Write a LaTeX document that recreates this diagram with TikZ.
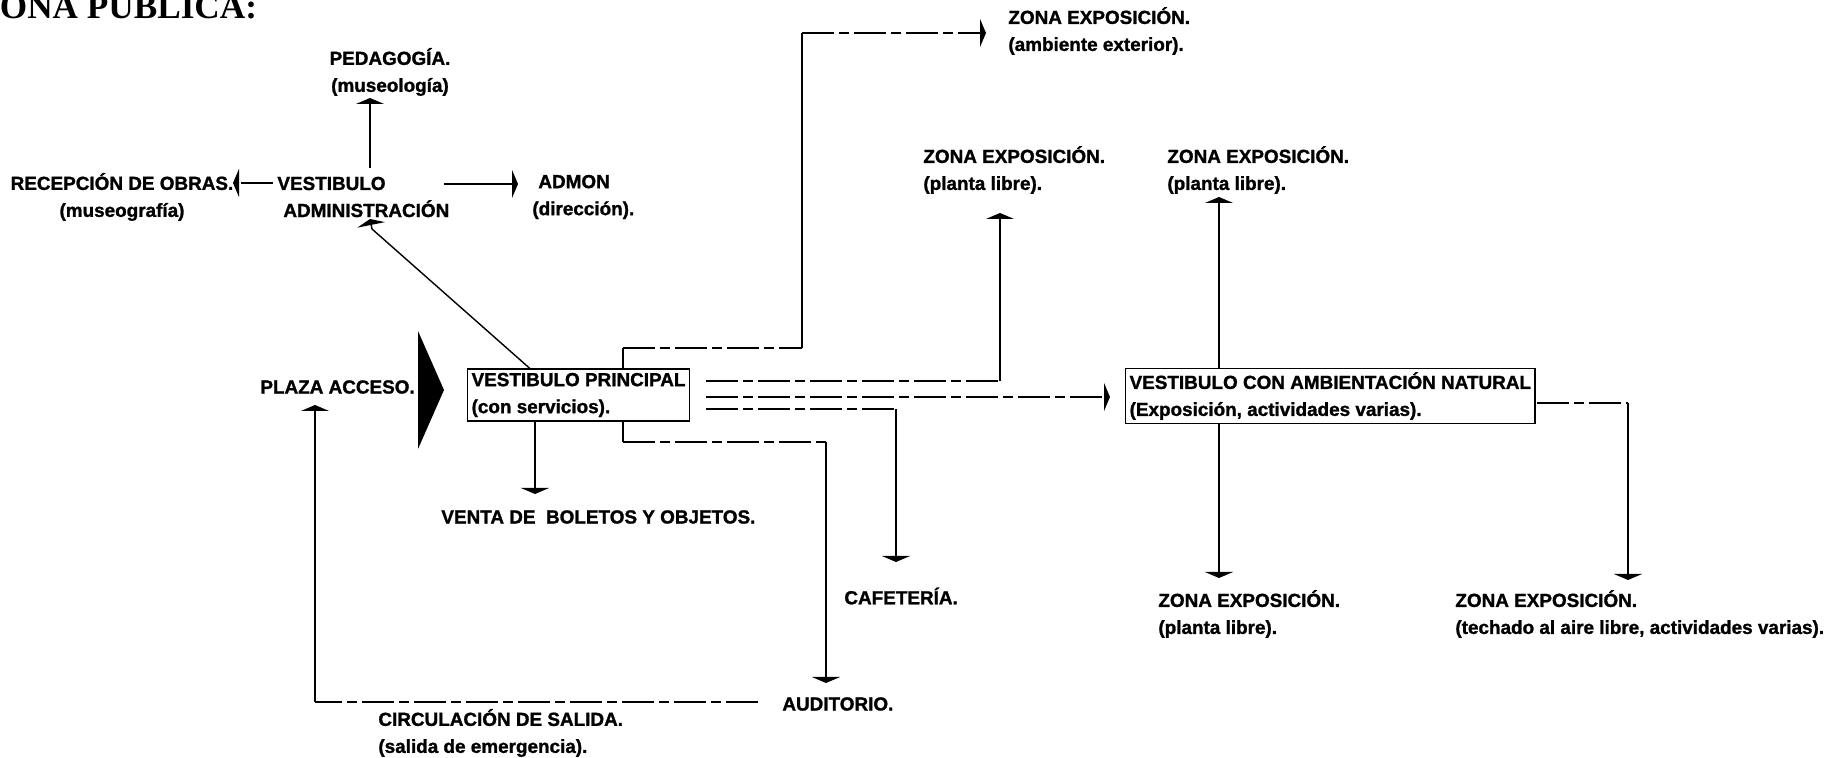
\documentclass[tikz,border=0pt]{standalone}
\usepackage{fontspec}
\setmainfont{Liberation Sans}
\newfontfamily\heavy{Liberation Sans Bold}[FakeBold=1.3]
\newfontfamily\titlefont{Liberation Serif}
\usetikzlibrary{arrows.meta}
\begin{document}
\begin{tikzpicture}[x=0.5pt,y=-0.5pt,
  lbl/.style={inner sep=0pt, font=\heavy\fontsize{9.45}{13.5}\selectfont, align=left, anchor=west},
  lblc/.style={lbl, align=center, anchor=center},
  boxed/.style={lbl, draw, fill=white, line width=0.6pt, inner xsep=2pt, inner ysep=2pt},
  ln/.style={line width=0.7pt},
  arr/.style={ln, -{Triangle[length=3pt,width=14pt]}},
  harr/.style={ln, -{Triangle[length=3pt,width=14pt]}},
  brk/.style={dash pattern=on 16pt off 2.5pt on 5pt off 2.5pt},
]
\useasboundingbox (0,0) rectangle (1843,758);
% title
\node[anchor=base west, inner sep=0pt, font=\titlefont\bfseries\fontsize{17.6}{20}\selectfont] (title) at (-24,19) {ZONA PÚBLICA:};

% junction / tip coordinates
\coordinate (pedTip) at (370,98);
\coordinate (pedBot) at (370,168);
\coordinate (recTail) at (273,183);
\coordinate (recTip) at (233,183);
\coordinate (admTail) at (444,184);
\coordinate (admTip) at (518,184);
\coordinate (diagTail) at (535,373);
\coordinate (diagPre) at (372,229);
\coordinate (diagTip) at (370,219);
\coordinate (brA) at (623,348);
\coordinate (brB) at (802,348);
\coordinate (brC) at (802,33);
\coordinate (extTip) at (986,33);
\coordinate (brD) at (623,442);
\coordinate (brE) at (826,442);
\coordinate (audTip) at (826,683);
\coordinate (l1a) at (706,381);
\coordinate (l1b) at (1000,381);
\coordinate (midTip) at (1000,213);
\coordinate (l2a) at (706,397);
\coordinate (vcaTip) at (1110,397);
\coordinate (l3a) at (706,409);
\coordinate (l3b) at (896,409);
\coordinate (cafTip) at (896,562);
\coordinate (vBot) at (535,417);
\coordinate (ventaTip) at (535,494);
\coordinate (ciA) at (758,702);
\coordinate (ciB) at (315,702);
\coordinate (plazaTip) at (315,405);
\coordinate (vcaMid) at (1219,400);
\coordinate (upTip) at (1219,197);
\coordinate (dnTip) at (1219,578);
\coordinate (rA) at (1537,403);
\coordinate (rB) at (1628,403);
\coordinate (rTip) at (1628,580);

% connectors
\draw[arr] (pedBot) -- (pedTip);
\draw[harr,brk] (recTail) -- (recTip);
\draw[harr] (admTail) -- (admTip);
\draw[arr] (diagTail) -- (diagPre) -- (diagTip);
\draw[ln,brk] (brA) -- (brB);
\draw[ln] (brB) -- (brC);
\draw[harr,brk] (brC) -- (extTip);
\draw[ln] (brA) -- (brD);
\draw[ln,brk] (brD) -- (brE);
\draw[arr] (brE) -- (audTip);
\draw[ln,brk] (l1a) -- (l1b);
\draw[arr] (l1b) -- (midTip);
\draw[harr,brk] (l2a) -- (vcaTip);
\draw[ln,brk] (l3a) -- (l3b);
\draw[arr] (l3b) -- (cafTip);
\draw[arr] (vBot) -- (ventaTip);
\draw[ln,brk] (ciA) -- (ciB);
\draw[arr] (ciB) -- (plazaTip);
\draw[arr] (vcaMid) -- (upTip);
\draw[arr] (vcaMid) -- (dnTip);
\draw[ln,brk] (rA) -- (rB);
\draw[arr] (rB) -- (rTip);

% entrance triangle
\fill (418,331) -- (444,390) -- (418,449) -- cycle;

% labels
\node[lblc] (ped) at (390,72) {PEDAGOGÍA.\\(museología)};
\node[lblc] (rec) at (122,197) {RECEPCIÓN DE OBRAS.\\(museografía)};
\node[lbl] (vadm) at (277,197) {VESTIBULO\\\hspace*{3pt}ADMINISTRACIÓN};
\node[lbl] (adm) at (532,197) {\hspace*{3pt}ADMON\\(dirección).};
\node[lbl] (zext) at (1008,31) {ZONA EXPOSICIÓN.\\(ambiente exterior).};
\node[lbl] (zmid) at (923,170) {ZONA EXPOSICIÓN.\\(planta libre).};
\node[lbl] (zup) at (1167,170) {ZONA EXPOSICIÓN.\\(planta libre).};
\node[lbl] (plaza) at (260,387) {PLAZA ACCESO.};
\node[boxed] (vp) at (467,395) {VESTIBULO PRINCIPAL\\(con servicios).};
\node[boxed] (vca) at (1125,396) {VESTIBULO CON AMBIENTACIÓN NATURAL\\(Exposición, actividades varias).};
\node[lbl] (venta) at (441,517) {VENTA DE\ \ BOLETOS Y OBJETOS.};
\node[lbl] (caf) at (844,596) {CAFETERÍA.};
\node[lbl] (aud) at (782,704) {AUDITORIO.};
\node[lbl] (circ) at (378,733) {CIRCULACIÓN DE SALIDA.\\(salida de emergencia).};
\node[lbl] (zdn) at (1158,614) {ZONA EXPOSICIÓN.\\(planta libre).};
\node[lbl] (zrt) at (1455,614) {ZONA EXPOSICIÓN.\\(techado al aire libre, actividades varias).};
\end{tikzpicture}
\end{document}
